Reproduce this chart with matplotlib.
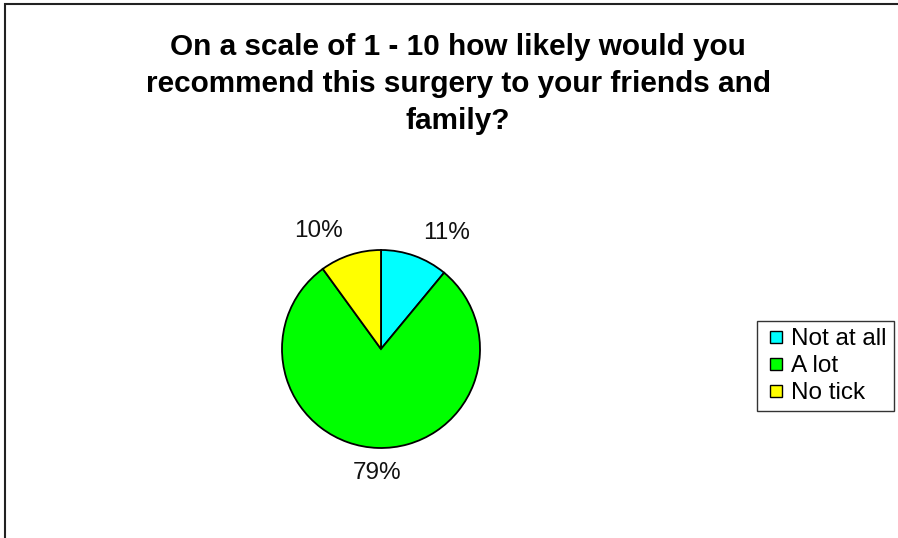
import matplotlib
matplotlib.use("Agg")
import matplotlib.pyplot as plt
from matplotlib.patches import Rectangle
from matplotlib.lines import Line2D
import numpy as np

plt.rcParams['font.family'] = ['Liberation Sans', 'DejaVu Sans']

categories = ["Not at all", "A lot", "No tick"]
shares = [11, 79, 10]
colors = ["#00FFFF", "#00FF00", "#FFFF00"]
title = "On a scale of 1 - 10 how likely would you\nrecommend this surgery to your friends and\nfamily?"

W, H = 898, 538
fig = plt.figure(figsize=(W / 100, H / 100), dpi=100)
ax = fig.add_axes([0, 0, 1, 1])

wedges, texts, autotexts = ax.pie(
    shares, colors=colors, startangle=90, counterclock=False,
    center=(381, H - 349), radius=99, frame=True,
    autopct=lambda p: f"{p:.0f}%", pctdistance=1.25,
    wedgeprops=dict(edgecolor="black", linewidth=1.3),
    textprops=dict(fontsize=17.5, color="#111111"))
ax.set_xlim(0, W)
ax.set_ylim(0, H)
ax.set_aspect('equal')
ax.axis('off')

# push the percentage labels outward so their inner edge sits near the pie
for w, t in zip(wedges, autotexts):
    ang = np.deg2rad((w.theta1 + w.theta2) / 2)
    c = np.cos(ang)
    if c > 0.15:
        t.set_ha('left')
    elif c < -0.15:
        t.set_ha('right')
    else:
        t.set_ha('center')

fig.text(458 / W, 1 - 84 / H, title, ha='center', va='center', fontsize=21.4,
         fontweight='bold', linespacing=1.43)

handles = [Line2D([], [], linestyle='none', marker='s', markersize=8,
                  markerfacecolor=c, markeredgecolor='black', markeredgewidth=1.0)
           for c in colors]
leg = fig.legend(handles, categories, loc='upper left',
                 bbox_to_anchor=(757 / W, 1 - 321 / H),
                 fontsize=17.5, frameon=True, fancybox=False,
                 handlelength=1.0, handletextpad=0.1,
                 labelspacing=0.2, borderpad=0.3, borderaxespad=0)
leg.get_frame().set_edgecolor('black')
leg.get_frame().set_linewidth(1.0)

# chart area border (continues past the right and bottom edges)
fig.patches.append(Rectangle((5 / W, -0.2), 1.2, 1.2 - 4 / H, transform=fig.transFigure,
                             fill=False, edgecolor='#222222', linewidth=1.5))

fig.savefig("out.png", dpi=100, facecolor='white')
